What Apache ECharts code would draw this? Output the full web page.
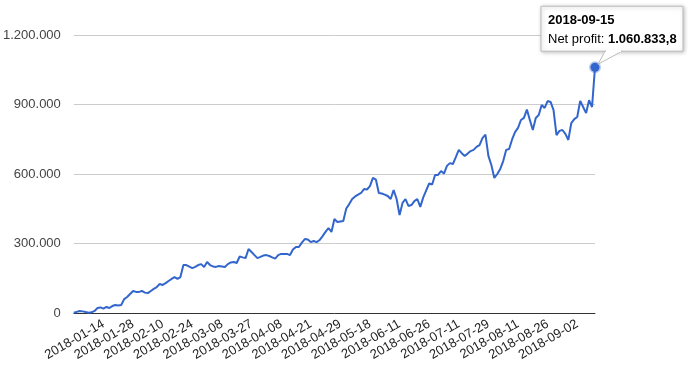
<!DOCTYPE html>
<html>
<head>
<meta charset="utf-8">
<script src="https://cdn.jsdelivr.net/npm/echarts@6/dist/echarts.min.js"></script>
<style>
html,body{margin:0;padding:0;background:#fff;}
#chart{width:700px;height:373px;}
</style>
</head>
<body>
<div id="chart"></div>
<script>
const dates = [
"2018-01-01","2018-01-02","2018-01-03","2018-01-05","2018-01-06","2018-01-07","2018-01-08","2018-01-10","2018-01-11","2018-01-13",
"2018-01-14","2018-01-15","2018-01-16","2018-01-18","2018-01-19","2018-01-21","2018-01-22","2018-01-23","2018-01-25","2018-01-26",
"2018-01-28","2018-01-29","2018-01-30","2018-02-01","2018-02-02","2018-02-03","2018-02-05","2018-02-06","2018-02-07","2018-02-09",
"2018-02-10","2018-02-11","2018-02-12","2018-02-14","2018-02-15","2018-02-17","2018-02-18","2018-02-19","2018-02-21","2018-02-22",
"2018-02-24","2018-02-25","2018-02-26","2018-02-27","2018-03-01","2018-03-02","2018-03-03","2018-03-04","2018-03-05","2018-03-07",
"2018-03-08","2018-03-09","2018-03-11","2018-03-13","2018-03-15","2018-03-17","2018-03-19","2018-03-21","2018-03-23","2018-03-25",
"2018-03-27","2018-03-28","2018-03-29","2018-03-30","2018-04-01","2018-04-02","2018-04-03","2018-04-04","2018-04-05","2018-04-07",
"2018-04-08","2018-04-09","2018-04-10","2018-04-12","2018-04-13","2018-04-14","2018-04-16","2018-04-17","2018-04-18","2018-04-20",
"2018-04-21","2018-04-22","2018-04-23","2018-04-23","2018-04-24","2018-04-25","2018-04-26","2018-04-26","2018-04-27","2018-04-28",
"2018-04-29","2018-04-30","2018-05-02","2018-05-04","2018-05-06","2018-05-08","2018-05-10","2018-05-12","2018-05-14","2018-05-16",
"2018-05-18","2018-05-20","2018-05-22","2018-05-25","2018-05-27","2018-05-29","2018-06-01","2018-06-03","2018-06-05","2018-06-08",
"2018-06-11","2018-06-12","2018-06-14","2018-06-15","2018-06-17","2018-06-18","2018-06-20","2018-06-21","2018-06-23","2018-06-24",
"2018-06-26","2018-06-27","2018-06-29","2018-06-30","2018-07-02","2018-07-03","2018-07-05","2018-07-06","2018-07-08","2018-07-09",
"2018-07-11","2018-07-12","2018-07-14","2018-07-16","2018-07-18","2018-07-20","2018-07-21","2018-07-23","2018-07-25","2018-07-27",
"2018-07-29","2018-07-30","2018-07-31","2018-08-02","2018-08-03","2018-08-04","2018-08-06","2018-08-07","2018-08-08","2018-08-10",
"2018-08-11","2018-08-12","2018-08-14","2018-08-15","2018-08-17","2018-08-18","2018-08-20","2018-08-21","2018-08-23","2018-08-24",
"2018-08-26","2018-08-27","2018-08-27","2018-08-28","2018-08-29","2018-08-29","2018-08-30","2018-08-31","2018-08-31","2018-09-01",
"2018-09-02","2018-09-04","2018-09-06","2018-09-08","2018-09-10","2018-09-13","2018-09-15"
];

const netProfit = [
1000, 5000, 8600, 7000, 4000, 1000, 3000, 9000, 21600, 24000,
19000, 26000, 21600, 30000, 34500, 32000, 34500, 60000, 69000, 82000,
95000, 91000, 91000, 95000, 88000, 86000, 95000, 104000, 112000, 125000,
121000, 129000, 138000, 147000, 155000, 147000, 155000, 207000, 207000, 200000,
194000, 199000, 207000, 211000, 199000, 220000, 207000, 201000, 199000, 203000,
201000, 199000, 211000, 218000, 220000, 216000, 244000, 240000, 237000, 276000,
263000, 250000, 237000, 242000, 248000, 250000, 246000, 240000, 235000, 250000,
255000, 255000, 255000, 250000, 274000, 285000, 285000, 304000, 319000, 317000,
306000, 311000, 306000, 315000, 332000, 350000, 367000, 350000, 406000, 393000,
395000, 397000, 451000, 470000, 492000, 503000, 511000, 518000, 535000, 533000,
548000, 583000, 576000, 518000, 516000, 511000, 505000, 492000, 531000, 492000,
423000, 475000, 492000, 462000, 466000, 483000, 492000, 458000, 499000, 529000,
559000, 555000, 596000, 596000, 613000, 602000, 635000, 647000, 643000, 673000,
704000, 690000, 678000, 688000, 699000, 704000, 717000, 725000, 755000, 770000,
678000, 639000, 583000, 600000, 622000, 656000, 704000, 708000, 749000, 781000,
799000, 833000, 842000, 878000, 833000, 790000, 842000, 855000, 898000, 885000,
915000, 911000, 876000, 768000, 786000, 790000, 773000, 747000, 820000, 837000,
846000, 915000, 889000, 863000, 919000, 889000, 1060833.8
];

const yTicks = [0, 300000, 600000, 900000, 1200000];
const seriesName = "Net profit";

const FONT = 'Arial, "Liberation Sans", sans-serif';

function fmtNum(v, decimals) {
  const neg = v < 0;
  v = Math.abs(v);
  let s = decimals ? v.toFixed(decimals) : String(Math.round(v));
  let parts = s.split('.');
  let intPart = parts[0].replace(/\B(?=(\d{3})+(?!\d))/g, '.');
  return (neg ? '-' : '') + intPart + (parts[1] ? ',' + parts[1] : '');
}

const chart = echarts.init(document.getElementById('chart'), null, {renderer: 'canvas'});
const lastIdx = dates.length - 1;
const lastVal = netProfit[lastIdx];

chart.setOption({
  animation: false,
  grid: {left: 73, right: 105, top: 35, bottom: 60, containLabel: false},
  xAxis: {
    type: 'category',
    data: dates,
    boundaryGap: false,
    axisLine: {show: true, lineStyle: {color: '#333', width: 1}},
    axisTick: {show: false},
    axisLabel: {
      rotate: 30,
      margin: 10,
      color: '#222',
      fontSize: 13,
      fontFamily: FONT,
      interval: function (index) { return index > 0 && index % 10 === 0; }
    },
    splitLine: {show: false}
  },
  yAxis: {
    type: 'value',
    min: yTicks[0],
    max: yTicks[yTicks.length - 1],
    interval: yTicks[1] - yTicks[0],
    axisLine: {show: false},
    axisTick: {show: false},
    axisLabel: {
      color: '#444',
      fontSize: 13,
      fontFamily: FONT,
      margin: 13,
      formatter: function (v) { return fmtNum(v); }
    },
    splitLine: {lineStyle: {color: '#ccc', width: 1}}
  },
  series: [{
    name: seriesName,
    type: 'line',
    data: netProfit,
    showSymbol: false,
    lineStyle: {color: '#3366cc', width: 2},
    itemStyle: {color: '#3366cc'},
    z: 3,
    markPoint: {
      symbol: 'circle',
      symbolSize: 9,
      itemStyle: {color: '#3366cc', borderColor: 'rgba(51,102,204,0.35)', borderWidth: 3},
      label: {show: false},
      data: [{coord: [lastIdx, lastVal]}]
    }
  }]
});

const p = chart.convertToPixel({seriesIndex: 0}, [lastIdx, lastVal]);
const bx = p[0] - 54, by = p[1] - 61, bw = 142, bh = 45;
chart.setOption({
  graphic: [
    {
      type: 'rect', z: 100,
      shape: {x: bx, y: by, width: bw, height: bh},
      style: {fill: '#fff', stroke: '#bbb', lineWidth: 1, shadowBlur: 4, shadowColor: 'rgba(0,0,0,0.25)', shadowOffsetX: 1, shadowOffsetY: 1}
    },
    {
      type: 'polygon', z: 101,
      shape: {points: [[p[0] + 10, by + bh], [p[0] + 27, by + bh], [p[0] + 3, p[1] - 3]]},
      style: {fill: '#fff', stroke: '#bbb', lineWidth: 1}
    },
    {
      type: 'rect', z: 102,
      shape: {x: p[0] + 11, y: by + bh - 1.5, width: 15, height: 2.5},
      style: {fill: '#fff'}
    },
    {
      type: 'text', z: 103,
      style: {
        x: bx + 7, y: by + 5,
        text: '{b|' + dates[lastIdx] + '}\n{n|' + seriesName + ': }{b|' + fmtNum(lastVal, 1) + '}',
        rich: {
          b: {fontWeight: 'bold', fontSize: 13, fontFamily: FONT, fill: '#000', lineHeight: 19},
          n: {fontSize: 13, fontFamily: FONT, fill: '#000', lineHeight: 19}
        }
      }
    }
  ]
});
</script>
</body>
</html>
